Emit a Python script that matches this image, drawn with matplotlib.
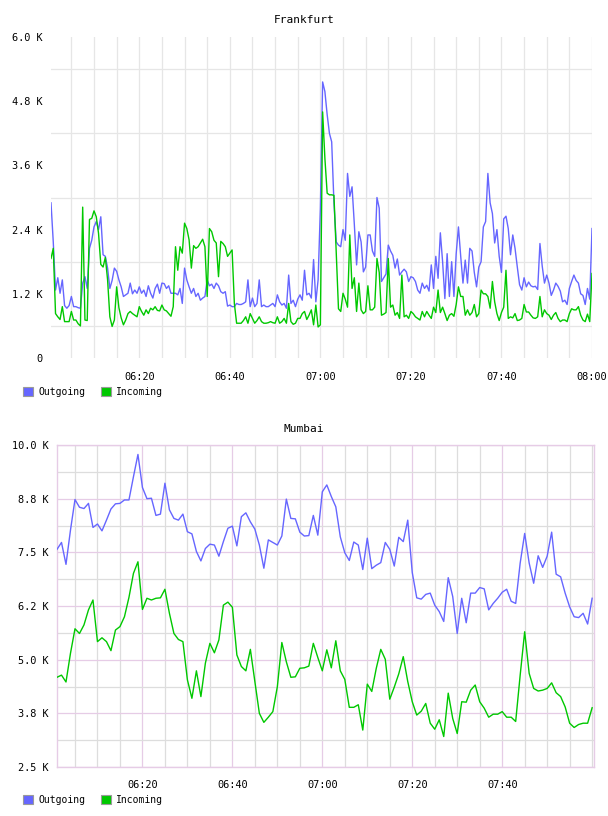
import numpy as np
import pandas as pd
import matplotlib
matplotlib.use("Agg")
import matplotlib.pyplot as plt
import matplotlib.dates as mdates
from matplotlib.patches import Patch
from matplotlib.ticker import FixedLocator, FuncFormatter

OUT_COLOR = "#6666ff"
IN_COLOR = "#00c800"
GRID_GRAY = "#e6e6e6"
GRID_PINK = "#e6cce6"

# Frankfurt: 30 s samples, 06:00:30 .. 08:00 (values in K)
fra_time = pd.date_range("2020-01-01 06:00:30", periods=240, freq="30s")
fra_out = [
    2.90, 2.17, 1.27, 1.50, 1.21, 1.46, 0.98, 0.93, 0.98, 1.15,
    0.96, 0.96, 0.94, 0.93, 1.40, 1.52, 1.30, 2.05, 2.20, 2.45,
    2.55, 2.40, 2.64, 1.93, 1.90, 1.68, 1.30, 1.45, 1.68, 1.62,
    1.46, 1.33, 1.15, 1.18, 1.21, 1.40, 1.20, 1.27, 1.21, 1.33,
    1.21, 1.27, 1.15, 1.35, 1.21, 1.12, 1.30, 1.38, 1.21, 1.40,
    1.39, 1.30, 1.35, 1.21, 1.21, 1.21, 1.18, 1.30, 1.02, 1.68,
    1.46, 1.33, 1.21, 1.30, 1.15, 1.21, 1.08, 1.12, 1.15, 1.46,
    1.35, 1.38, 1.30, 1.40, 1.35, 1.24, 1.21, 1.24, 0.97, 0.99,
    0.96, 0.96, 1.02, 1.00, 1.00, 1.02, 1.05, 1.46, 0.96, 1.12,
    0.96, 1.02, 1.46, 0.96, 0.99, 0.96, 0.96, 0.99, 1.02, 0.96,
    1.18, 1.05, 0.99, 1.02, 0.93, 1.55, 1.02, 1.08, 0.96, 1.10,
    1.18, 1.08, 1.64, 1.18, 1.21, 1.12, 1.84, 1.05, 1.46, 2.80,
    5.16, 4.98, 4.55, 4.20, 4.04, 2.90, 2.17, 2.11, 2.08, 2.40,
    2.20, 3.45, 3.02, 3.20, 2.50, 1.74, 2.36, 2.17, 1.61, 1.70,
    2.30, 2.30, 2.00, 1.90, 3.00, 2.80, 1.43, 1.50, 1.57, 2.11,
    2.00, 1.92, 1.68, 1.85, 1.55, 1.61, 1.66, 1.61, 1.43, 1.52,
    1.50, 1.43, 1.27, 1.21, 1.40, 1.30, 1.36, 1.25, 1.74, 1.30,
    1.90, 1.49, 2.34, 1.80, 1.11, 1.95, 1.15, 1.80, 1.15, 1.95,
    2.45, 1.90, 1.40, 1.83, 1.40, 2.05, 2.00, 1.60, 1.33, 1.70,
    1.80, 2.45, 2.55, 3.45, 2.90, 2.70, 2.15, 2.40, 1.90, 1.60,
    2.60, 2.65, 2.42, 1.93, 2.30, 2.05, 1.70, 1.37, 1.27, 1.50,
    1.33, 1.42, 1.35, 1.33, 1.34, 1.28, 2.14, 1.72, 1.40, 1.55,
    1.40, 1.17, 1.27, 1.40, 1.34, 1.25, 1.05, 1.08, 1.00, 1.30,
    1.43, 1.55, 1.45, 1.40, 1.20, 1.17, 1.00, 1.30, 1.10, 2.42,
]
fra_in = [
    1.86, 2.05, 0.83, 0.77, 0.72, 0.96, 0.68, 0.68, 0.68, 0.87,
    0.71, 0.71, 0.64, 0.60, 2.82, 0.71, 0.70, 2.59, 2.61, 2.75,
    2.64, 2.33, 1.75, 1.70, 1.88, 1.46, 0.77, 0.59, 0.71, 1.33,
    0.94, 0.75, 0.62, 0.71, 0.83, 0.87, 0.83, 0.80, 0.77, 0.96,
    0.87, 0.80, 0.90, 0.83, 0.93, 0.90, 0.96, 0.89, 0.88, 0.99,
    0.90, 0.88, 0.83, 0.78, 0.96, 2.08, 1.64, 2.08, 1.96, 2.52,
    2.42, 2.21, 1.68, 2.10, 2.05, 2.08, 2.15, 2.22, 2.08, 1.15,
    2.42, 2.36, 2.20, 2.15, 1.52, 2.18, 2.14, 2.08, 1.90, 1.96,
    2.02, 1.02, 0.65, 0.65, 0.65, 0.70, 0.77, 0.65, 0.83, 0.74,
    0.65, 0.70, 0.77, 0.68, 0.65, 0.65, 0.66, 0.68, 0.66, 0.65,
    0.77, 0.65, 0.68, 0.74, 0.65, 1.02, 0.68, 0.63, 0.65, 0.74,
    0.74, 0.83, 0.87, 0.72, 0.80, 0.90, 0.62, 0.99, 0.58, 0.62,
    4.60, 3.73, 3.08, 3.05, 3.05, 3.04, 2.00, 0.92, 0.87, 1.21,
    1.10, 0.95, 2.30, 1.30, 1.50, 0.87, 1.40, 0.90, 0.83, 0.87,
    1.35, 0.90, 0.90, 0.95, 1.86, 1.60, 0.80, 0.82, 0.85, 1.86,
    0.95, 0.99, 0.80, 0.85, 0.74, 1.55, 0.77, 0.80, 0.74, 0.87,
    0.83, 0.77, 0.74, 0.71, 0.87, 0.77, 0.87, 0.80, 0.74, 0.95,
    0.85, 1.27, 0.85, 0.95, 0.83, 0.70, 0.80, 0.83, 0.78, 1.00,
    1.33, 1.15, 1.15, 0.80, 0.90, 0.80, 0.85, 1.00, 0.77, 0.83,
    1.27, 1.20, 1.20, 1.15, 0.93, 1.43, 1.05, 0.83, 0.70, 0.85,
    0.95, 1.64, 0.74, 0.77, 0.75, 0.83, 0.70, 0.71, 0.74, 1.00,
    0.86, 0.86, 0.80, 0.75, 0.74, 0.77, 1.15, 0.77, 0.90, 0.83,
    0.80, 0.72, 0.80, 0.85, 0.74, 0.68, 0.71, 0.71, 0.68, 0.83,
    0.92, 0.90, 0.90, 0.96, 0.80, 0.71, 0.68, 0.82, 0.68, 1.58,
]

# Mumbai: 1 min samples, 06:01 .. 08:00 (values in K)
mum_time = pd.date_range("2020-01-01 06:01", periods=120, freq="1min")
mum_out = [
    7.57, 7.73, 7.22, 8.02, 8.73, 8.55, 8.52, 8.64, 8.08, 8.16,
    8.00, 8.25, 8.51, 8.63, 8.64, 8.72, 8.72, 9.26, 9.78, 9.01,
    8.75, 8.76, 8.36, 8.39, 9.11, 8.49, 8.29, 8.25, 8.39, 7.98,
    7.93, 7.52, 7.30, 7.59, 7.69, 7.67, 7.41, 7.75, 8.06, 8.11,
    7.65, 8.33, 8.42, 8.21, 8.04, 7.67, 7.13, 7.79, 7.73, 7.67,
    7.88, 8.74, 8.29, 8.28, 7.97, 7.88, 7.89, 8.36, 7.90, 8.91,
    9.07, 8.80, 8.56, 7.86, 7.49, 7.31, 7.74, 7.67, 7.10, 7.83,
    7.12, 7.20, 7.26, 7.73, 7.57, 7.18, 7.85, 7.75, 8.25, 7.03,
    6.44, 6.41, 6.52, 6.55, 6.27, 6.12, 5.89, 6.91, 6.47, 5.61,
    6.43, 5.86, 6.55, 6.55, 6.68, 6.65, 6.16, 6.31, 6.43, 6.57,
    6.64, 6.36, 6.31, 7.25, 7.94, 7.25, 6.78, 7.42, 7.15, 7.41,
    7.97, 6.99, 6.93, 6.55, 6.23, 6.00, 5.98, 6.08, 5.83, 6.43,
]
mum_in = [
    4.59, 4.64, 4.48, 5.15, 5.72, 5.61, 5.81, 6.16, 6.39, 5.42,
    5.51, 5.42, 5.21, 5.69, 5.77, 6.00, 6.45, 7.01, 7.28, 6.17,
    6.43, 6.39, 6.43, 6.44, 6.64, 6.08, 5.61, 5.47, 5.42, 4.53,
    4.10, 4.74, 4.14, 4.92, 5.38, 5.16, 5.46, 6.27, 6.34, 6.22,
    5.11, 4.84, 4.74, 5.24, 4.49, 3.75, 3.54, 3.66, 3.79, 4.37,
    5.40, 4.95, 4.59, 4.60, 4.80, 4.81, 4.85, 5.38, 5.05, 4.74,
    5.23, 4.81, 5.44, 4.74, 4.54, 3.89, 3.89, 3.95, 3.36, 4.43,
    4.26, 4.80, 5.24, 5.01, 4.08, 4.36, 4.67, 5.07, 4.49, 4.02,
    3.71, 3.80, 3.98, 3.52, 3.38, 3.60, 3.21, 4.22, 3.63, 3.28,
    4.02, 4.01, 4.29, 4.41, 4.02, 3.87, 3.66, 3.73, 3.73, 3.79,
    3.66, 3.66, 3.56, 4.64, 5.65, 4.68, 4.33, 4.27, 4.29, 4.33,
    4.46, 4.23, 4.14, 3.90, 3.52, 3.42, 3.49, 3.52, 3.52, 3.88,
]

fra_yticks = [0, 1.2, 2.4, 3.6, 4.8, 6.0]
fra_ygrid = [0.6, 1.8, 3.0, 4.2, 5.4]
mum_yticks = [2.5, 3.75, 5.0, 6.25, 7.5, 8.75, 10.0]
mum_ygrid = [3.125, 4.375, 5.625, 6.875, 8.125, 9.375]
mum_xticks = ["06:20", "06:40", "07:00", "07:20", "07:40"]

SERIES = ["Outgoing", "Incoming"]


def k_fmt(v, pos=None):
    return "0" if v == 0 else f"{v:.1f} K"


def add_legend(fig, y_px):
    handles = [Patch(facecolor=c, edgecolor="#9a9a9a", linewidth=0.8, label=s)
               for c, s in zip([OUT_COLOR, IN_COLOR], SERIES)]
    fig.legend(handles=handles, loc="center left",
               bbox_to_anchor=(23 / 608, 1 - y_px / 816),
               bbox_transform=fig.transFigure, ncol=2, frameon=False,
               fontsize=7, handlelength=1.05, handleheight=1.1,
               handletextpad=0.5, columnspacing=1.65,
               borderpad=0, borderaxespad=0)


def main():
    plt.rcParams.update({
        "font.family": "DejaVu Sans Mono",
        "font.size": 7.4,
    })
    fig = plt.figure(figsize=(6.08, 8.16), dpi=100)

    # ---- Frankfurt ----
    ax = fig.add_axes([51 / 608, 1 - 358 / 816, 541 / 608, 321 / 816])
    ax.plot(fra_time, fra_out, color=OUT_COLOR, lw=1.0, zorder=3)
    ax.plot(fra_time, fra_in, color=IN_COLOR, lw=1.0, zorder=4)
    ax.set_xlim(fra_time[0], fra_time[-1])
    ax.set_ylim(0, 6.0)
    ax.yaxis.set_major_locator(FixedLocator(fra_yticks))
    ax.yaxis.set_minor_locator(FixedLocator(fra_ygrid))
    ax.yaxis.set_major_formatter(FuncFormatter(k_fmt))
    ax.xaxis.set_major_locator(mdates.MinuteLocator(byminute=[0, 20, 40]))
    ax.xaxis.set_minor_locator(mdates.MinuteLocator(byminute=range(0, 60, 5)))
    ax.xaxis.set_major_formatter(mdates.DateFormatter("%H:%M"))
    ax.grid(True, axis="x", which="both", color=GRID_GRAY, lw=0.9, zorder=0)
    ax.grid(True, axis="y", which="minor", color=GRID_GRAY, lw=0.9, zorder=0)
    ax.tick_params(which="both", length=0)
    ax.tick_params(axis="x", pad=10)
    ax.tick_params(axis="y", pad=6)
    for sp in ax.spines.values():
        sp.set_visible(False)
    ax.set_axisbelow(True)
    fig.text(0.5, 1 - 20 / 816, "Frankfurt", ha="center", va="center",
             fontsize=8)
    add_legend(fig, 392)

    # ---- Mumbai ----
    ax = fig.add_axes([57 / 608, 1 - 767 / 816, 537 / 608, 322 / 816])
    ax.plot(mum_time, mum_out, color=OUT_COLOR, lw=1.0, zorder=3)
    ax.plot(mum_time, mum_in, color=IN_COLOR, lw=1.0, zorder=4)
    ax.set_xlim(mum_time[0], mum_time[-1] + pd.Timedelta("25s"))
    ax.set_ylim(2.5, 10.0)
    ax.yaxis.set_major_locator(FixedLocator(mum_yticks))
    ax.yaxis.set_minor_locator(FixedLocator(mum_ygrid))
    ax.yaxis.set_major_formatter(FuncFormatter(k_fmt))
    xt = [mdates.date2num(pd.Timestamp("2020-01-01 " + s)) for s in mum_xticks]
    ax.xaxis.set_major_locator(FixedLocator(xt))
    ax.xaxis.set_minor_locator(mdates.MinuteLocator(byminute=range(0, 60, 5)))
    ax.set_xticklabels(mum_xticks)
    ax.grid(True, which="minor", color="#dddddd", lw=0.9, zorder=0)
    ax.grid(True, which="major", color=GRID_PINK, lw=0.9, zorder=1)
    ax.tick_params(which="both", length=0)
    ax.tick_params(axis="x", pad=9)
    ax.tick_params(axis="y", pad=6)
    for sp in ax.spines.values():
        sp.set_color(GRID_PINK)
        sp.set_linewidth(1.0)
    ax.set_axisbelow(True)
    fig.text(0.5, 1 - 429 / 816, "Mumbai", ha="center", va="center",
             fontsize=8)
    add_legend(fig, 800)

    fig.savefig("out.png", dpi=100)
    plt.close(fig)


if __name__ == "__main__":
    main()
